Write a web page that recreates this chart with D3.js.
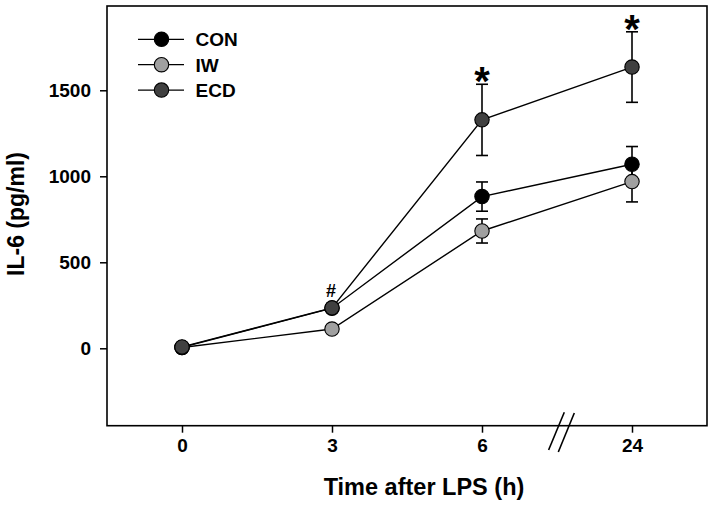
<!DOCTYPE html>
<html><head><meta charset="utf-8">
<script src="https://cdn.jsdelivr.net/npm/d3@7"></script>
<style>body{margin:0;background:#fff}svg{display:block}text{font-family:"Liberation Sans",Arial,sans-serif;font-weight:bold;fill:#000}</style>
</head><body><svg id="c" width="714" height="506"></svg>
<script>
const timeLabels = ["0","3","6","24"];
const seriesNames = ["CON","IW","ECD"];
const conValues = [5, 233, 882, 1070];
const conErrors = [5, 15, 85, 103];
const iwValues = [5, 112, 682, 969];
const iwErrors = [5, 12, 70, 118];
const ecdValues = [8, 235, 1328, 1635];
const ecdErrors = [5, 25, 207, 205];
const yTicks = [0, 500, 1000, 1500];
const starTimes = [2, 3];   // indices marked with *
const hashTimes = [1];      // indices marked with #

const colors = {CON:"#000000", IW:"#a0a0a0", ECD:"#404040"};
const series = [
  {name:"CON", values:conValues, errors:conErrors},
  {name:"IW", values:iwValues, errors:iwErrors},
  {name:"ECD", values:ecdValues, errors:ecdErrors}
];

const svg = d3.select("#c");
const L=107, R=707, T=6, B=425.7;
const x = d3.scaleLinear().domain([-0.5, 3.5]).range([L, R]);
const y = d3.scaleLinear().domain([-450, 1990]).range([B, T]);

// frame
svg.append("rect").attr("x",L).attr("y",T).attr("width",R-L).attr("height",B-T)
  .attr("fill","none").attr("stroke","#000").attr("stroke-width",1.6);

// y axis
const yAxis = d3.axisLeft(y).tickValues(yTicks).tickSize(7).tickPadding(9).tickFormat(d3.format("d"));
const gy = svg.append("g").attr("transform",`translate(${L},0)`).call(yAxis);
gy.select(".domain").remove();
gy.selectAll("line").attr("stroke","#000").attr("stroke-width",1.5);
gy.selectAll("text").attr("font-size",19).attr("font-family","Liberation Sans, Arial, sans-serif").attr("font-weight","bold").attr("dy","0.35em");

// x axis
const xAxis = d3.axisBottom(x).tickValues(d3.range(timeLabels.length)).tickSize(7).tickPadding(0).tickFormat(i=>timeLabels[i]);
const gx = svg.append("g").attr("transform",`translate(0,${B})`).call(xAxis);
gx.select(".domain").remove();
gx.selectAll("line").attr("stroke","#000").attr("stroke-width",1.5);
gx.selectAll("text").attr("font-size",19).attr("font-family","Liberation Sans, Arial, sans-serif").attr("font-weight","bold").attr("dy",null).attr("y",26.5);

// axis break marks
const bx = x(2.5);
[[-8.4, 450, 7.3, 412.3],[1.3, 452, 17.3, 413]].forEach(s=>{
  svg.append("line").attr("x1",bx+s[0]).attr("y1",s[1]).attr("x2",bx+s[2]).attr("y2",s[3])
    .attr("stroke","#000").attr("stroke-width",1.6);
});

// axis titles
svg.append("text").attr("x",424).attr("y",495).attr("text-anchor","middle").attr("font-size",23.5).text("Time after LPS (h)");
svg.append("text").attr("transform","translate(24,214) rotate(-90)").attr("text-anchor","middle").attr("font-size",23).text("IL-6 (pg/ml)");

// lines
const line = d3.line().x((d,i)=>x(i)).y(d=>y(d));
series.forEach(s=>{
  svg.append("path").attr("d",line(s.values)).attr("fill","none").attr("stroke","#000").attr("stroke-width",1.4);
});
// error bars
series.forEach(s=>{
  const g = svg.append("g").attr("stroke","#000").attr("stroke-width",1.6);
  s.values.forEach((v,i)=>{
    const cx=x(i), y1=y(v+s.errors[i]), y2=y(v-s.errors[i]);
    g.append("line").attr("x1",cx).attr("x2",cx).attr("y1",y1).attr("y2",y2);
    g.append("line").attr("x1",cx-6).attr("x2",cx+6).attr("y1",y1).attr("y2",y1);
    g.append("line").attr("x1",cx-6).attr("x2",cx+6).attr("y1",y2).attr("y2",y2);
  });
});
// markers
series.forEach(s=>{
  svg.append("g").selectAll("circle").data(s.values).join("circle")
    .attr("cx",(d,i)=>x(i)).attr("cy",d=>y(d)).attr("r",7.2)
    .attr("fill",colors[s.name]).attr("stroke","#000").attr("stroke-width",1.1);
});

// significance marks
starTimes.forEach(i=>{
  const top = y(ecdValues[i]+ecdErrors[i]);
  svg.append("text").attr("x",x(i)).attr("y",top+11).attr("text-anchor","middle").attr("font-size",40).text("*");
});
hashTimes.forEach(i=>{
  const top = y(ecdValues[i]+ecdErrors[i]);
  svg.append("text").attr("x",x(i)-1).attr("y",top-7).attr("text-anchor","middle").attr("font-size",18).text("#");
});

// legend
series.forEach((s,k)=>{
  const ly = 39.3 + k*25.4;
  svg.append("line").attr("x1",138).attr("x2",184).attr("y1",ly).attr("y2",ly).attr("stroke","#000").attr("stroke-width",1.3);
  svg.append("circle").attr("cx",161.5).attr("cy",ly).attr("r",7.2).attr("fill",colors[s.name]).attr("stroke","#000").attr("stroke-width",1.1);
  svg.append("text").attr("x",195.5).attr("y",ly+6.8).attr("font-size",19).text(s.name);
});
</script></body></html>
